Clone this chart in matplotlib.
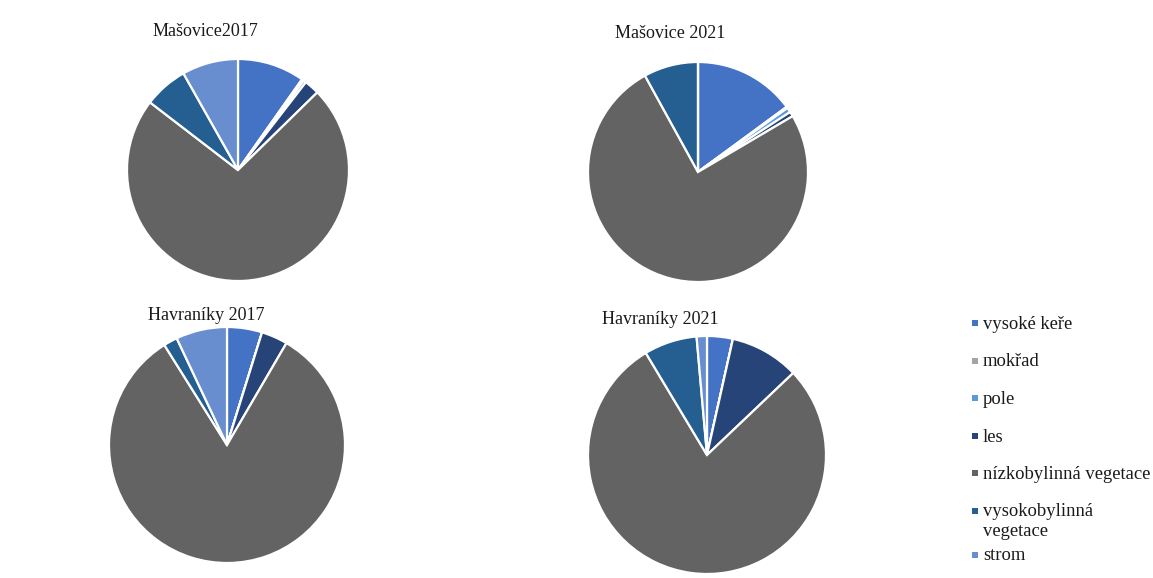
import matplotlib.pyplot as plt
from matplotlib.patches import Rectangle

# categories in the order Excel draws them (clockwise from the top)
categories = ["vysoké keře", "mokřad", "pole", "les",
              "nízkobylinná vegetace", "vysokobylinná vegetace", "strom"]
legend_labels = ["vysoké keře", "mokřad", "pole", "les",
                 "nízkobylinná vegetace", "vysokobylinná\nvegetace", "strom"]
colors = ["#4472C4", "#A5A5A5", "#5B9BD5", "#264478",
          "#636363", "#255E91", "#698ED0"]

titles = ["Mašovice2017", "Mašovice 2021", "Havraníky 2017", "Havraníky 2021"]

# shares in %
masovice_2017 = [9.8, 0.3, 0.4, 2.2, 72.9, 6.4, 8.2]
masovice_2021 = [14.9, 0.2, 0.7, 0.7, 75.4, 8.0, 0.0]
havraniky_2017 = [4.8, 0.0, 0.0, 3.6, 82.6, 1.9, 7.0]
havraniky_2021 = [3.5, 0.0, 0.0, 9.4, 78.5, 7.2, 1.4]
series = [masovice_2017, masovice_2021, havraniky_2017, havraniky_2021]

W, H = 1153, 578
# pie centre x, centre y, radius (pixels) and title centre
pies = [(238, 170, 111, 205, 32),
        (698, 172, 110, 670, 33),
        (227, 445, 118, 206, 315),
        (707, 455, 119, 660, 319)]

plt.rcParams['font.family'] = ['Liberation Serif', 'DejaVu Serif']
TXT = "#1a1a1a"

fig = plt.figure(figsize=(W / 100, H / 100), dpi=100)

for vals, title, (cx, cy, r, tx, ty) in zip(series, titles, pies):
    ax = fig.add_axes([(cx - r) / W, (H - cy - r) / H, 2 * r / W, 2 * r / H])
    ax.pie(vals, colors=colors, startangle=90, counterclock=False,
           wedgeprops=dict(edgecolor="white", linewidth=1.6))
    ax.set_xlim(-1, 1)
    ax.set_ylim(-1, 1)
    ax.set_aspect("equal")
    fig.text(tx / W, 1 - ty / H, title, ha="center", va="center",
             fontsize=13, color=TXT)

# legend drawn by hand so the two-line entry sits like Excel's
base = 329  # baseline of the first entry, pixels from top
for lab, c in zip(legend_labels, colors):
    fig.patches.append(Rectangle((972 / W, 1 - (base - 3) / H), 6 / W, 6 / H,
                                 transform=fig.transFigure, facecolor=c,
                                 edgecolor="none"))
    lines = lab.split("\n")
    for k, line in enumerate(lines):
        fig.text(983 / W, 1 - (base + 20 * k) / H, line, ha="left",
                 va="baseline", fontsize=13.4, color=TXT)
    base += 37.5 + 6.5 * (len(lines) - 1)

fig.savefig("out.png", dpi=100)
